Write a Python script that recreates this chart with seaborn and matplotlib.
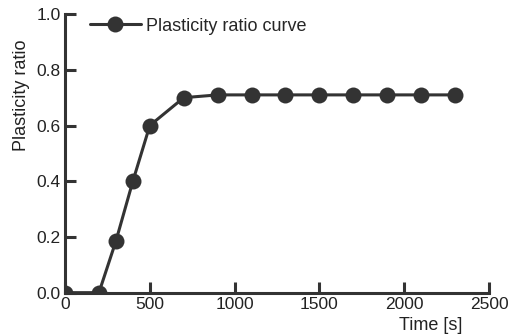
import numpy as np
import pandas as pd
import seaborn as sns
import matplotlib
matplotlib.use('Agg')
import matplotlib.pyplot as plt

# values
time_s = [0, 200, 300, 400, 500, 700, 900, 1100, 1300, 1500, 1700, 1900, 2100, 2300]
plasticity_ratio = [0.0, 0.0, 0.185, 0.40, 0.60, 0.70, 0.71, 0.71, 0.71, 0.71, 0.71, 0.71, 0.71, 0.71]
x_ticks = [0, 500, 1000, 1500, 2000, 2500]
y_ticks = [0.0, 0.2, 0.4, 0.6, 0.8, 1.0]

sns.set_style('ticks')
plt.rcParams['font.family'] = ['Liberation Sans', 'DejaVu Sans']
dark = '#333333'

df = pd.DataFrame({'Time': time_s, 'Ratio': plasticity_ratio})

fig = plt.figure(figsize=(5.12, 3.36), dpi=100)
ax = fig.add_axes([0.127, 0.129, 0.828, 0.829])

sns.lineplot(data=df, x='Time', y='Ratio', ax=ax, color=dark, marker='o',
             markersize=11.5, markeredgewidth=0, linewidth=2.2,
             label='Plasticity ratio curve')

ax.set_xlim(0, 2500)
ax.set_ylim(0, 1.0)
ax.set_xticks(x_ticks)
ax.set_yticks(y_ticks)
ax.set_yticklabels([f'{v:.1f}' for v in y_ticks])

for side in ['top', 'right']:
    ax.spines[side].set_visible(False)
for side in ['left', 'bottom']:
    ax.spines[side].set_linewidth(2.2)
    ax.spines[side].set_color(dark)

ax.tick_params(direction='in', length=8, width=2.2, color=dark,
               labelsize=12.5, labelcolor='#222222', pad=3)

ax.set_ylabel('Plasticity ratio', fontsize=13, color='#222222')
ax.yaxis.set_label_coords(-0.083, 0.71)
ax.set_xlabel('Time [s]', fontsize=13, color='#222222', labelpad=0)
ax.xaxis.set_label_coords(0.863, -0.088)

leg = ax.legend(loc='center left', bbox_to_anchor=(0.059, 0.957), frameon=False,
                fontsize=13, handlelength=2.8, handletextpad=0.3,
                borderpad=0, borderaxespad=0)

fig.savefig('out.png', dpi=100)
